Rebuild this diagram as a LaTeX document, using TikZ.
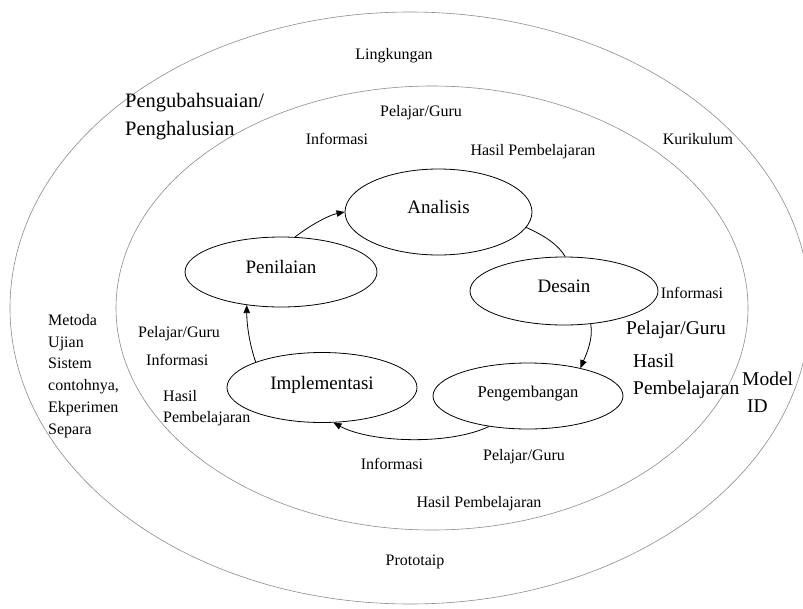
\documentclass[tikz,border=0pt]{standalone}
\usepackage{fontspec}
\setmainfont{Liberation Serif}
\usetikzlibrary{shapes.geometric,arrows.meta}
\begin{document}
\begin{tikzpicture}[x=1pt,y=-1pt,
  ring/.style={draw=black!45, line width=0.6pt},
  stage/.style={draw=black, ellipse, line width=0.8pt, inner sep=0pt, text height=0.7em, text depth=0.4em, font=\fontsize{19}{22}\selectfont},
  lbl/.style={inner sep=0pt, text height=0.7em, text depth=0.2em, font=\fontsize{16}{19}\selectfont},
  big/.style={inner sep=0pt, text height=0.7em, text depth=0.2em, font=\fontsize{19.5}{23}\selectfont},
  flow/.style={draw=black, line width=0.8pt},
  tip/.style={-{Triangle[length=8pt,width=6.5pt]}}
]
\useasboundingbox (0,0) rectangle (803,608);
\clip (0,0) rectangle (803,608);
\fill[white] (0,0) rectangle (803,608);

% rings
\draw[ring] (410,308) ellipse [x radius=400pt, y radius=296pt];
\draw[ring] (432,308) ellipse [x radius=316pt, y radius=222pt];

% stages
\node[stage, minimum width=187pt, minimum height=86pt] (ana) at (438.5,212) {Analisis};
\node[stage, minimum width=188pt, minimum height=68pt] (des) at (564,291) {Desain};
\node[stage, minimum width=192pt, minimum height=70pt] (pen) at (281,272) {Penilaian};
\node[stage, minimum width=190pt, minimum height=70pt] (imp) at (322,387.5) {Implementasi};
\node[stage, minimum width=190pt, minimum height=66pt, font=\fontsize{16.5}{20}\selectfont] (peng) at (528,396) {Pengembangan};

% connectors
\draw[flow] (ana.-10) .. controls +(18,8) and +(-7,-12) .. (des.88);
\draw[flow,tip] (des.-51) .. controls +(3,15) and +(5,-12) .. (peng.28);
\draw[flow,tip] (peng.-142) .. controls +(-40,19) and +(37,20) .. (imp.-72);
\draw[flow,tip] (imp.159) .. controls +(-6,-17) and +(0,20) .. (pen.-136);
\draw[flow,tip] (pen.68) .. controls +(15,-12) and +(-15,3) .. (ana.180);

% outer ring labels
\node[lbl] (lingk) at (394,57) {Lingkungan};
\node[big, anchor=west, font=\fontsize{20.5}{24}\selectfont] (ubah1) at (125,105) {Pengubahsuaian/};
\node[big, anchor=west, font=\fontsize{20.5}{24}\selectfont] (ubah2) at (125,133) {Penghalusian};
\node[lbl] (kur) at (698,142) {Kurikulum};
\node[lbl] (proto) at (415,563) {Prototaip};
\node[big, anchor=west] (mod1) at (742,383) {Model};
\node[big, anchor=west] (mod2) at (747,410) {ID};
\node[lbl, anchor=west] (met1) at (48,323) {Metoda};
\node[lbl, anchor=west] (met2) at (48,345) {Ujian};
\node[lbl, anchor=west] (met3) at (48,366) {Sistem};
\node[lbl, anchor=west] (met4) at (48,388) {contohnya,};
\node[lbl, anchor=west] (met5) at (48,410) {Ekperimen};
\node[lbl, anchor=west] (met6) at (48,432) {Separa};

% inner ring labels
\node[lbl] (pg1) at (421,114) {Pelajar/Guru};
\node[lbl] (inf1) at (337,142) {Informasi};
\node[lbl] (hp1) at (533,153) {Hasil Pembelajaran};

\node[lbl] (inf2) at (692,296) {Informasi};
\node[big] (pg2) at (676,332) {Pelajar/Guru};
\node[big, anchor=west] (hp2a) at (633,365) {Hasil};
\node[big, anchor=west] (hp2b) at (633,392) {Pembelajaran};

\node[lbl, anchor=west] (pg3) at (138,335) {Pelajar/Guru};
\node[lbl, anchor=west] (inf3) at (146,363) {Informasi};
\node[lbl, anchor=west] (hp3a) at (163,399) {Hasil};
\node[lbl, anchor=west] (hp3b) at (163,420) {Pembelajaran};

\node[lbl] (inf4) at (392,467) {Informasi};
\node[lbl] (pg4) at (524,458) {Pelajar/Guru};
\node[lbl] (hp4) at (479,505) {Hasil Pembelajaran};
\end{tikzpicture}
\end{document}
